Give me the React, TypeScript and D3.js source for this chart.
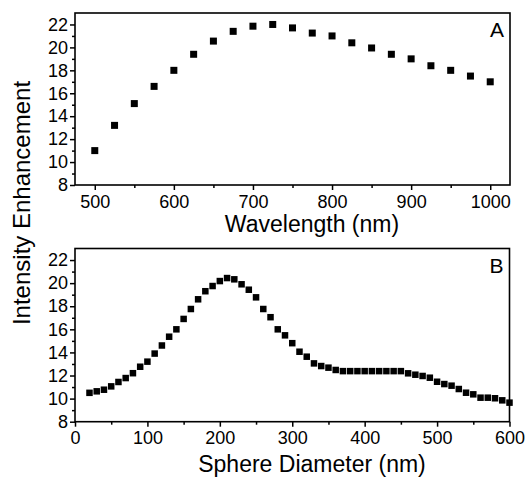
import { useEffect, useRef } from "react";
import * as d3 from "d3";

// Panel A: enhancement vs wavelength
const wavelengths = [500, 525, 550, 575, 600, 625, 650, 675, 700, 725, 750, 775, 800, 825, 850, 875, 900, 925, 950, 975, 1000];
const enhancementA = [11.0, 13.2, 15.1, 16.6, 18.0, 19.4, 20.55, 21.4, 21.85, 22.0, 21.7, 21.25, 21.0, 20.4, 19.95, 19.4, 19.0, 18.4, 18.0, 17.5, 17.0];

// Panel B: enhancement vs sphere diameter
const diameters = [20, 30, 40, 50, 60, 70, 80, 90, 100, 110, 120, 130, 140, 150, 160, 170, 180, 190, 200, 210, 220, 230, 240, 250, 260, 270, 280, 290, 300, 310, 320, 330, 340, 350, 360, 370, 380, 390, 400, 410, 420, 430, 440, 450, 460, 470, 480, 490, 500, 510, 520, 530, 540, 550, 560, 570, 580, 590, 600];
const enhancementB = [10.5, 10.63, 10.77, 11.06, 11.44, 11.78, 12.2, 12.76, 13.2, 13.9, 14.6, 15.36, 16.0, 16.9, 17.76, 18.6, 19.3, 19.75, 20.18, 20.44, 20.33, 19.9, 19.43, 18.77, 17.76, 17.05, 16.0, 15.48, 14.8, 14.06, 13.63, 13.05, 12.82, 12.68, 12.48, 12.38, 12.38, 12.38, 12.38, 12.38, 12.38, 12.38, 12.38, 12.38, 12.19, 12.07, 11.96, 11.81, 11.46, 11.26, 11.12, 10.83, 10.51, 10.37, 10.08, 10.08, 10.03, 9.85, 9.65];

const yMajor = [8, 10, 12, 14, 16, 18, 20, 22];
const yMinor = [9, 11, 13, 15, 17, 19, 21];
const xMajorA = [500, 600, 700, 800, 900, 1000];
const xMinorA = [550, 650, 750, 850, 950];
const xMajorB = [0, 100, 200, 300, 400, 500, 600];
const xMinorB = [50, 150, 250, 350, 450, 550];

const FONT = "'Liberation Sans', Arial, Helvetica, sans-serif";
const NARROW = "'Liberation Sans Narrow', 'Arial Narrow', 'Liberation Sans', Arial, sans-serif";

export default function App() {
    const svgRef = useRef<SVGSVGElement | null>(null);

    useEffect(() => {
        const svg = d3.select(svgRef.current);
        svg.selectAll("*").remove();

        // draws one panel with its box, ticks and square markers
        function drawPanel(opts: any) {
            const { left, right, top, bottom, xDomain, xs, ys, xMajor, xMinor, title, titleGap, letter, size } = opts;

            const x = d3.scaleLinear().domain(xDomain).range([left, right]);
            const y = d3.scaleLinear().domain([8, 23]).range([bottom, top]);

            const g = svg.append("g");

            // minor ticks first
            g.append("g")
                .attr("transform", `translate(0,${bottom})`)
                .call(d3.axisBottom(x).tickValues(xMinor).tickSize(3).tickSizeOuter(0).tickFormat(() => ""));
            g.append("g")
                .attr("transform", `translate(${left},0)`)
                .call(d3.axisLeft(y).tickValues(yMinor).tickSize(3).tickSizeOuter(0).tickFormat(() => ""));

            const xAxis = g.append("g")
                .attr("transform", `translate(0,${bottom})`)
                .call(d3.axisBottom(x).tickValues(xMajor).tickSize(5).tickSizeOuter(0).tickPadding(5).tickFormat(d3.format("d")));
            const yAxis = g.append("g")
                .attr("transform", `translate(${left},0)`)
                .call(d3.axisLeft(y).tickValues(yMajor).tickSize(5).tickSizeOuter(0).tickPadding(2).tickFormat(d3.format("d")));

            g.selectAll(".domain").remove();
            g.selectAll(".tick line").attr("stroke", "#000").attr("stroke-width", 1.5);
            [xAxis, yAxis].forEach(a => a.selectAll("text")
                .attr("font-family", NARROW)
                .attr("font-size", 18)
                .attr("fill", "#000"));

            // frame
            g.append("rect")
                .attr("x", left)
                .attr("y", top)
                .attr("width", right - left)
                .attr("height", bottom - top)
                .attr("fill", "none")
                .attr("stroke", "#000")
                .attr("stroke-width", 1.6);

            g.append("g")
                .selectAll("rect")
                .data(xs)
                .join("rect")
                .attr("x", (d: number) => x(d) - size / 2)
                .attr("y", (d: number, i: number) => y(ys[i]) - size / 2)
                .attr("width", size)
                .attr("height", size)
                .attr("fill", "#000");

            g.append("text")
                .attr("x", 312)
                .attr("y", bottom + titleGap)
                .attr("text-anchor", "middle")
                .attr("font-family", FONT)
                .attr("font-size", 23)
                .text(title);

            g.append("text")
                .attr("x", right - 6)
                .attr("y", top + 24)
                .attr("text-anchor", "end")
                .attr("font-family", FONT)
                .attr("font-size", 21)
                .text(letter);
        }

        drawPanel({
            left: 75, right: 510, top: 13, bottom: 185,
            xDomain: [475, 1025], xs: wavelengths, ys: enhancementA,
            xMajor: xMajorA, xMinor: xMinorA,
            title: "Wavelength (nm)", titleGap: 47, letter: "A", size: 7
        });

        drawPanel({
            left: 75, right: 509.5, top: 248.5, bottom: 421.7,
            xDomain: [0, 600], xs: diameters, ys: enhancementB,
            xMajor: xMajorB, xMinor: xMinorB,
            title: "Sphere Diameter (nm)", titleGap: 50, letter: "B", size: 6.5
        });

        // shared y title
        svg.append("text")
            .attr("transform", "translate(30,203) rotate(-90)")
            .attr("text-anchor", "middle")
            .attr("font-family", FONT)
            .attr("font-size", 24)
            .text("Intensity Enhancement");
    }, []);

    return (
        <svg
            ref={svgRef}
            width={527}
            height={478}
            style={{ position: "absolute", left: 0, top: 0, background: "#fff" }}
        />
    );
}
